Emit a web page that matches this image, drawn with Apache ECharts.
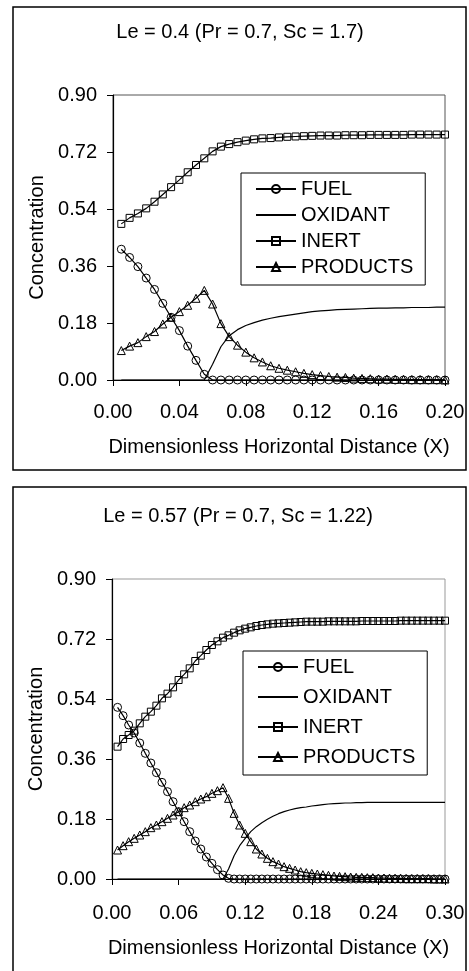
<!DOCTYPE html>
<html>
<head>
<meta charset="utf-8">
<script src="https://cdn.jsdelivr.net/npm/echarts@6/dist/echarts.min.js"></script>
<style>
  html, body { margin: 0; padding: 0; background: #fff; }
  #chart { width: 469px; height: 971px; }
</style>
</head>
<body>
<div id="chart"></div>
<script>
// ---- panel 1 : Le = 0.4 ----
const x1 = [0.005, 0.010, 0.015, 0.020, 0.025, 0.030, 0.035, 0.040, 0.045, 0.050,
  0.055, 0.060, 0.065, 0.070, 0.075, 0.080, 0.085, 0.090, 0.095, 0.100,
  0.105, 0.110, 0.115, 0.120, 0.125, 0.130, 0.135, 0.140, 0.145, 0.150,
  0.155, 0.160, 0.165, 0.170, 0.175, 0.180, 0.185, 0.190, 0.195, 0.200];
const fuel1 = [0.413, 0.387, 0.358, 0.322, 0.286, 0.242, 0.198, 0.156, 0.107, 0.062,
  0.018, 0, 0, 0, 0, 0, 0, 0, 0, 0,
  0, 0, 0, 0, 0, 0, 0, 0, 0, 0,
  0, 0, 0, 0, 0, 0, 0, 0, 0, 0];
const oxid1 = [0, 0, 0, 0, 0, 0, 0, 0, 0, 0,
  0, 0.05, 0.105, 0.14, 0.159, 0.172, 0.181, 0.189, 0.195, 0.2,
  0.204, 0.208, 0.212, 0.216, 0.218, 0.22, 0.222, 0.223, 0.224, 0.225,
  0.226, 0.227, 0.227, 0.228, 0.228, 0.229, 0.229, 0.229, 0.23, 0.23];
const inert1 = [0.493, 0.512, 0.526, 0.542, 0.563, 0.586, 0.609, 0.632, 0.656, 0.679,
  0.700, 0.722, 0.737, 0.745, 0.751, 0.756, 0.760, 0.763, 0.764, 0.766,
  0.768, 0.769, 0.770, 0.771, 0.772, 0.772, 0.772, 0.773, 0.773, 0.773,
  0.774, 0.774, 0.774, 0.774, 0.774, 0.775, 0.775, 0.775, 0.775, 0.775];
const prod1 = [0.093, 0.107, 0.118, 0.137, 0.153, 0.177, 0.198, 0.216, 0.236, 0.258,
  0.283, 0.240, 0.178, 0.137, 0.110, 0.088, 0.070, 0.057, 0.045, 0.037,
  0.031, 0.026, 0.021, 0.017, 0.014, 0.011, 0.009, 0.008, 0.006, 0.005,
  0.004, 0.003, 0.003, 0.002, 0.002, 0.001, 0.001, 0.001, 0.001, 0.000];

// ---- panel 2 : Le = 0.57 ----
const x2 = [0.005, 0.010, 0.015, 0.020, 0.025, 0.030, 0.035, 0.040, 0.045, 0.050,
  0.055, 0.060, 0.065, 0.070, 0.075, 0.080, 0.085, 0.090, 0.095, 0.100,
  0.105, 0.110, 0.115, 0.120, 0.125, 0.130, 0.135, 0.140, 0.145, 0.150,
  0.155, 0.160, 0.165, 0.170, 0.175, 0.180, 0.185, 0.190, 0.195, 0.200,
  0.205, 0.210, 0.215, 0.220, 0.225, 0.230, 0.235, 0.240, 0.245, 0.250,
  0.255, 0.260, 0.265, 0.270, 0.275, 0.280, 0.285, 0.290, 0.295, 0.300];
const fuel2 = [0.515, 0.490, 0.462, 0.438, 0.408, 0.377, 0.348, 0.319, 0.290, 0.262,
  0.232, 0.202, 0.172, 0.142, 0.114, 0.090, 0.066, 0.047, 0.028, 0.012,
  0.002, 0, 0, 0, 0, 0, 0, 0, 0, 0,
  0, 0, 0, 0, 0, 0, 0, 0, 0, 0,
  0, 0, 0, 0, 0, 0, 0, 0, 0, 0,
  0, 0, 0, 0, 0, 0, 0, 0, 0, 0];
const oxid2 = [0, 0, 0, 0, 0, 0, 0, 0, 0, 0,
  0, 0, 0, 0, 0, 0, 0, 0, 0, 0,
  0.03, 0.07, 0.10, 0.122, 0.142, 0.157, 0.169, 0.179, 0.188, 0.196,
  0.202, 0.207, 0.211, 0.214, 0.216, 0.219, 0.221, 0.223, 0.225, 0.226,
  0.227, 0.228, 0.228, 0.229, 0.229, 0.230, 0.230, 0.230, 0.230, 0.230,
  0.230, 0.230, 0.230, 0.230, 0.230, 0.230, 0.230, 0.230, 0.230, 0.230];
const inert2 = [0.397, 0.420, 0.432, 0.445, 0.467, 0.487, 0.502, 0.520, 0.542, 0.556,
  0.575, 0.597, 0.614, 0.632, 0.654, 0.670, 0.687, 0.702, 0.713, 0.724,
  0.731, 0.739, 0.746, 0.751, 0.755, 0.759, 0.762, 0.764, 0.766, 0.767,
  0.768, 0.769, 0.770, 0.771, 0.772, 0.772, 0.772, 0.772, 0.773, 0.773,
  0.773, 0.773, 0.773, 0.773, 0.774, 0.774, 0.774, 0.774, 0.774, 0.774,
  0.774, 0.775, 0.775, 0.775, 0.775, 0.775, 0.775, 0.775, 0.775, 0.775];
const prod2 = [0.087, 0.100, 0.112, 0.122, 0.132, 0.142, 0.154, 0.162, 0.172, 0.182,
  0.192, 0.202, 0.214, 0.222, 0.232, 0.240, 0.247, 0.257, 0.265, 0.274,
  0.242, 0.197, 0.162, 0.137, 0.112, 0.090, 0.075, 0.062, 0.052, 0.045,
  0.037, 0.032, 0.027, 0.022, 0.019, 0.017, 0.015, 0.013, 0.011, 0.009,
  0.008, 0.007, 0.006, 0.005, 0.005, 0.004, 0.004, 0.003, 0.003, 0.002,
  0.002, 0.002, 0.001, 0.001, 0.001, 0.001, 0.001, 0.000, 0.000, 0.000];

const legendNames = ['FUEL', 'OXIDANT', 'INERT', 'PRODUCTS'];

const FONT = "'Liberation Sans', Arial, sans-serif";

function pairs(xs, ys) {
  return xs.map((x, i) => [x, ys[i]]);
}

function makeSeries(name, idx, xs, ys, symbol, size) {
  return {
    name: name,
    type: 'line',
    xAxisIndex: idx,
    yAxisIndex: idx,
    data: pairs(xs, ys),
    symbol: symbol,
    symbolSize: size,
    showSymbol: symbol !== 'none',
    lineStyle: { color: '#000', width: 1.2 },
    itemStyle: { color: 'rgba(0,0,0,0)', borderColor: '#000', borderWidth: 1 },
    emphasis: { disabled: true },
    animation: false
  };
}

function xAxisOf(idx, max, step) {
  return {
    type: 'value', gridIndex: idx, min: 0, max: max, interval: step,
    name: 'Dimensionless Horizontal Distance (X)',
    nameLocation: 'middle', nameGap: idx === 0 ? 57 : 59,
    nameTextStyle: { fontFamily: FONT, fontSize: 20, color: '#000' },
    axisLine: { lineStyle: { color: '#000', width: 1.2 } },
    axisTick: { show: true, inside: false, length: 6, lineStyle: { color: '#000' } },
    axisLabel: { fontFamily: FONT, fontSize: 20, color: '#000', margin: idx === 0 ? 22 : 24,
      formatter: v => v.toFixed(2) },
    splitLine: { show: false }
  };
}

function yAxisOf(idx) {
  return {
    type: 'value', gridIndex: idx, min: 0, max: 0.9, interval: 0.18,
    name: 'Concentration',
    nameLocation: 'middle', nameGap: 66,
    nameTextStyle: { fontFamily: FONT, fontSize: 20, color: '#000' },
    axisLine: { show: true, lineStyle: { color: '#000', width: 1.2 } },
    axisTick: { show: true, inside: false, length: 6, lineStyle: { color: '#000' } },
    axisLabel: { fontFamily: FONT, fontSize: 20, color: '#000', margin: 16,
      formatter: v => v.toFixed(2) },
    splitLine: { show: false }
  };
}

function legendOf(top, left, gap) {
  return {
    orient: 'vertical',
    top: top, left: left,
    // the oxidant curve has no marker, so its legend key is a bare line
    data: legendNames.map(n => n === 'OXIDANT'
      ? { name: n, itemStyle: { color: 'rgba(0,0,0,0)', borderColor: 'rgba(0,0,0,0)', borderWidth: 0 } }
      : { name: n }),
    itemWidth: 40, itemHeight: 10, itemGap: gap,
    padding: [6, 12, 8, 14],
    borderColor: '#000', borderWidth: 1,
    backgroundColor: '#fff',
    selectedMode: false,
    textStyle: { fontFamily: FONT, fontSize: 20, color: '#000' }
  };
}

const chart = echarts.init(document.getElementById('chart'));
chart.setOption({
  backgroundColor: '#fff',
  animation: false,
  title: [
    { text: 'Le = 0.4 (Pr = 0.7, Sc = 1.7)', left: 240, textAlign: 'center', top: 22, padding: 0,
      textStyle: { fontFamily: FONT, fontSize: 20, fontWeight: 'normal', color: '#000' } },
    { text: 'Le = 0.57 (Pr = 0.7, Sc = 1.22)', left: 238, textAlign: 'center', top: 506, padding: 0,
      textStyle: { fontFamily: FONT, fontSize: 20, fontWeight: 'normal', color: '#000' } }
  ],
  grid: [
    { left: 113, top: 95, width: 332, height: 285, show: true, borderColor: '#555', borderWidth: 1, backgroundColor: 'transparent' },
    { left: 112, top: 579, width: 333, height: 300, show: true, borderColor: '#999', borderWidth: 1, backgroundColor: 'transparent' }
  ],
  xAxis: [xAxisOf(0, 0.2, 0.04), xAxisOf(1, 0.3, 0.06)],
  yAxis: [yAxisOf(0), yAxisOf(1)],
  legend: [legendOf(173, 241, 6), legendOf(651, 243, 10)],
  graphic: [
    { type: 'rect', shape: { x: 13, y: 7, width: 453, height: 463 },
      style: { fill: 'none', stroke: '#000', lineWidth: 1.5 }, silent: true },
    { type: 'rect', shape: { x: 13, y: 487, width: 453, height: 520 },
      style: { fill: 'none', stroke: '#000', lineWidth: 1.5 }, silent: true }
  ],
  series: [
    makeSeries('FUEL', 0, x1, fuel1, 'circle', 8),
    makeSeries('OXIDANT', 0, x1, oxid1, 'none', 0),
    makeSeries('INERT', 0, x1, inert1, 'rect', 7),
    makeSeries('PRODUCTS', 0, x1, prod1, 'triangle', 8),
    makeSeries('FUEL', 1, x2, fuel2, 'circle', 8),
    makeSeries('OXIDANT', 1, x2, oxid2, 'none', 0),
    makeSeries('INERT', 1, x2, inert2, 'rect', 7),
    makeSeries('PRODUCTS', 1, x2, prod2, 'triangle', 8)
  ]
});
</script>
</body>
</html>
